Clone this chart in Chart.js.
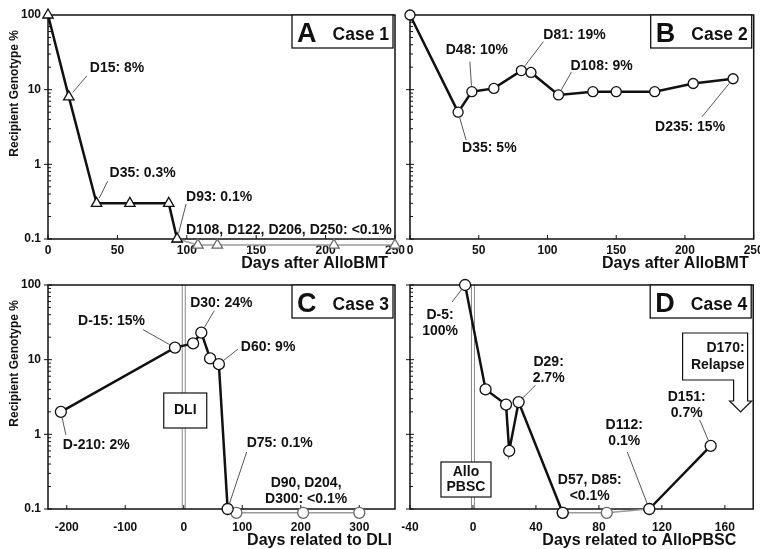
<!DOCTYPE html>
<html>
<head>
<meta charset="utf-8">
<script src="https://cdn.jsdelivr.net/npm/chart.js@4.4.0/dist/chart.umd.min.js"></script>
<style>
  html, body { margin: 0; padding: 0; background: #fff; }
  #wrap { position: relative; width: 760px; height: 549px; overflow: hidden; }
  canvas { position: absolute; }
</style>
</head>
<body>
<div id="wrap">
  <canvas id="cA" width="410" height="270" style="left:0;top:0"></canvas>
  <canvas id="cB" width="364" height="270" style="left:396px;top:0"></canvas>
  <canvas id="cC" width="410" height="279" style="left:0;top:270px"></canvas>
  <canvas id="cD" width="364" height="279" style="left:396px;top:270px"></canvas>
</div>
<script>
// shared y axis (log)
const yTicks = [0.1, 1, 10, 100];
const yTickLabels = ['0.1', '1', '10', '100'];
const yTitle = 'Recipient Genotype %';

// A - Case 1
const daysA = [0, 15, 35, 59, 87, 93];
const pctA = [100, 8, 0.3, 0.3, 0.3, 0.1];
const daysAlow = [93, 108, 122, 206, 250];
const pctAlow = [0.1, 0.083, 0.083, 0.083, 0.083];
const xTicksA = [0, 50, 100, 150, 200, 250];
const notesA = ['D15: 8%', 'D35: 0.3%', 'D93: 0.1%', 'D108, D122, D206, D250: <0.1%'];

// B - Case 2
const daysB = [0, 35, 45, 61, 81, 88, 108, 133, 150, 178, 206, 235];
const pctB = [100, 5, 9.4, 10.4, 18, 17, 8.5, 9.4, 9.4, 9.4, 12.1, 14];
const xTicksB = [0, 50, 100, 150, 200, 250];
const notesB = ['D35: 5%', 'D48: 10%', 'D81: 19%', 'D108: 9%', 'D235: 15%'];

// C - Case 3
const daysC = [-210, -15, 16, 30, 45, 60, 75];
const pctC = [2, 14.5, 16.5, 23, 10.4, 8.7, 0.1];
const daysClow = [75, 90, 204, 300];
const pctClow = [0.1, 0.089, 0.089, 0.089];
const xTicksC = [-200, -100, 0, 100, 200, 300];
const dliDay = 0;
const notesC = ['D-210: 2%', 'D-15: 15%', 'D30: 24%', 'D60: 9%', 'D75: 0.1%', ['D90, D204,', 'D300: <0.1%']];

// D - Case 4
const daysD = [-5, 8, 21, 23, 29, 57];
const pctD = [100, 4, 2.5, 0.6, 2.7, 0.089];
const daysDlow = [57, 85, 112];
const pctDlow = [0.089, 0.089, 0.1];
const daysDrel = [112, 151];
const pctDrel = [0.1, 0.7];
const xTicksD = [-40, 0, 40, 80, 120, 160];
const pbscDay = 0;
const relapseDay = 170;
const notesD = [['D-5:', '100%'], ['D29:', '2.7%'], ['D112:', '0.1%'], ['D151:', '0.7%'], ['D57, D85:', '<0.1%']];

const FONT = '"Liberation Sans", Arial, sans-serif';

function series(days, pcts, extra) {
  return Object.assign({
    data: days.map((d, i) => ({ x: d, y: pcts[i] })),
    clip: false,
    tension: 0,
    borderColor: '#111',
    borderWidth: 2.5,
    pointStyle: 'circle',
    pointRadius: 5,
    pointBackgroundColor: '#fff',
    pointBorderColor: '#111',
    pointBorderWidth: 1.3
  }, extra);
}
const lowStyle = { borderColor: '#9a9a9a', borderWidth: 1.6, pointBorderColor: '#666' };

function decor(cfg) {
  return {
    id: 'decor',
    beforeDatasetsDraw(chart) {
      const { ctx, chartArea: a, scales: { x, y } } = chart;
      ctx.save();
      // marker line (DLI / AlloPBSC)
      if (cfg.marker) {
        const mx = x.getPixelForValue(cfg.marker.day);
        ctx.strokeStyle = '#888';
        ctx.lineWidth = 1;
        [-1.5, 1.5].forEach(o => {
          ctx.beginPath();
          ctx.moveTo(mx + o, a.top);
          ctx.lineTo(mx + o, a.bottom);
          ctx.stroke();
        });
      }
      // frame
      ctx.strokeStyle = '#111';
      ctx.lineWidth = 1.5;
      ctx.strokeRect(a.left, a.top, a.right - a.left, a.bottom - a.top);
      // y ticks, major and minor
      ctx.lineWidth = 1;
      yTicks.forEach((v, k) => {
        const py = y.getPixelForValue(v);
        ctx.beginPath();
        ctx.moveTo(a.left - 4, py);
        ctx.lineTo(a.left + 4, py);
        ctx.stroke();
        if (k < yTicks.length - 1) {
          for (let m = 2; m <= 9; m++) {
            const my = y.getPixelForValue(v * m);
            ctx.beginPath();
            ctx.moveTo(a.left, my);
            ctx.lineTo(a.left + 3, my);
            ctx.stroke();
          }
        }
      });
      // x ticks
      cfg.xTicks.forEach(v => {
        const px = x.getPixelForValue(v);
        ctx.beginPath();
        ctx.moveTo(px, a.bottom);
        ctx.lineTo(px, a.bottom - 4);
        ctx.stroke();
      });
      ctx.restore();
    },
    afterDraw(chart) {
      const { ctx, chartArea: a, scales: { x } } = chart;
      ctx.save();
      ctx.fillStyle = '#111';
      ctx.textBaseline = 'middle';

      // notes with leader lines
      ctx.font = 'bold 14px ' + FONT;
      cfg.layout.forEach((n, k) => {
        const pt = chart.getDatasetMeta(n.set).data[n.i];
        if (n.lx !== undefined) {
          const len = Math.hypot(n.lx, n.ly);
          ctx.strokeStyle = '#444';
          ctx.lineWidth = 0.9;
          ctx.beginPath();
          ctx.moveTo(pt.x + n.lx / len * 6, pt.y + n.ly / len * 6);
          ctx.lineTo(pt.x + n.lx, pt.y + n.ly);
          ctx.stroke();
        }
        ctx.textAlign = n.align;
        [].concat(cfg.notes[k]).forEach((t, j) => {
          ctx.fillText(t, pt.x + n.tx, pt.y + n.ty + j * 16);
        });
      });

      // marker box
      if (cfg.marker) {
        const m = cfg.marker;
        const mx = x.getPixelForValue(m.day);
        const bx = mx + m.dx, by = a.top + m.top;
        ctx.fillStyle = '#fff';
        ctx.fillRect(bx, by, m.w, m.h);
        ctx.strokeStyle = '#111';
        ctx.lineWidth = 1.2;
        ctx.strokeRect(bx, by, m.w, m.h);
        ctx.fillStyle = '#111';
        ctx.textAlign = 'center';
        ctx.font = 'bold 14px ' + FONT;
        const n = m.text.length;
        m.text.forEach((t, j) => ctx.fillText(t, bx + m.w / 2, by + m.h / 2 + (j - (n - 1) / 2) * 15));
      }

      // relapse callout arrow
      if (cfg.relapse) {
        const tip = x.getPixelForValue(cfg.relapse.day);
        const top = a.top + 48, boxB = top + 47, headY = top + 68, tipY = top + 79;
        ctx.beginPath();
        ctx.moveTo(tip - 58, top);
        ctx.lineTo(tip + 7, top);
        ctx.lineTo(tip + 7, headY);
        ctx.lineTo(tip + 11, headY);
        ctx.lineTo(tip, tipY);
        ctx.lineTo(tip - 11, headY);
        ctx.lineTo(tip - 7, headY);
        ctx.lineTo(tip - 7, boxB);
        ctx.lineTo(tip - 58, boxB);
        ctx.closePath();
        ctx.fillStyle = '#fff';
        ctx.fill();
        ctx.strokeStyle = '#111';
        ctx.lineWidth = 1.2;
        ctx.stroke();
        ctx.fillStyle = '#111';
        ctx.textAlign = 'right';
        ctx.font = 'bold 14px ' + FONT;
        cfg.relapse.text.forEach((t, j) => ctx.fillText(t, tip + 4, top + 15 + j * 17));
      }

      // panel letter box
      const bw = 101, bh = 33, br = a.right - 2, bt = a.top;
      ctx.fillStyle = '#fff';
      ctx.fillRect(br - bw, bt, bw, bh);
      ctx.strokeStyle = '#111';
      ctx.lineWidth = 1.3;
      ctx.strokeRect(br - bw, bt, bw, bh);
      ctx.fillStyle = '#111';
      ctx.textBaseline = 'alphabetic';
      ctx.textAlign = 'left';
      ctx.font = 'bold 27px ' + FONT;
      ctx.fillText(cfg.letter, br - bw + 5, bt + 27);
      ctx.textAlign = 'right';
      ctx.font = 'bold 17.5px ' + FONT;
      ctx.fillText(cfg.caseText, br - 4, bt + 25);

      // x title
      ctx.textBaseline = 'middle';
      ctx.textAlign = 'right';
      ctx.font = 'bold 16px ' + FONT;
      ctx.fillText(cfg.xTitle, a.right - cfg.xTitleOff, a.bottom + cfg.xTitleY);

      // y title
      if (cfg.yTitle) {
        ctx.translate(15, a.top + 15);
        ctx.rotate(-Math.PI / 2);
        ctx.font = 'bold 12px ' + FONT;
        ctx.textAlign = 'right';
        ctx.fillText(yTitle, 0, 0);
      }
      ctx.restore();
    }
  };
}

function panel(id, cfg) {
  new Chart(document.getElementById(id), {
    type: 'line',
    data: { datasets: cfg.datasets },
    options: {
      responsive: false,
      animation: false,
      events: [],
      layout: { padding: { left: 0, right: cfg.padRight, top: 15, bottom: 0 } },
      plugins: { legend: { display: false }, tooltip: { enabled: false } },
      scales: {
        x: {
          type: 'linear',
          min: cfg.xMin,
          max: cfg.xMax,
          grid: { display: false, drawTicks: false },
          border: { display: false },
          afterBuildTicks: s => { s.ticks = cfg.xTicks.map(v => ({ value: v })); },
          ticks: {
            autoSkip: false,
            maxRotation: 0,
            padding: cfg.tickPad,
            color: '#111',
            font: { family: FONT, size: 12, weight: 'bold' },
            callback: v => String(v)
          },
          afterFit: s => { s.height = cfg.xAxisH; s.paddingLeft = 0; s.paddingRight = 0; }
        },
        y: {
          type: 'logarithmic',
          min: 0.1,
          max: 100,
          grid: { display: false, drawTicks: false },
          border: { display: false },
          afterBuildTicks: s => { s.ticks = yTicks.map(v => ({ value: v })); },
          ticks: {
            display: cfg.yLabels,
            autoSkip: false,
            padding: 7,
            color: '#111',
            font: { family: FONT, size: 12, weight: 'bold' },
            callback: v => yTickLabels[yTicks.indexOf(v)] || ''
          },
          afterFit: s => { s.width = cfg.yAxisW; s.paddingTop = 0; s.paddingBottom = 0; }
        }
      }
    },
    plugins: [decor(cfg)]
  });
}

panel('cA', {
  xMin: 0, xMax: 250, xTicks: xTicksA, padRight: 15, yAxisW: 48, yLabels: true, yTitle: true,
  xAxisH: 31, tickPad: 4, xTitle: 'Days after AlloBMT', xTitleOff: 7, xTitleY: 25,
  letter: 'A', caseText: 'Case 1',
  datasets: [
    series(daysA, pctA, { pointStyle: 'triangle', pointRadius: 6 }),
    series(daysAlow, pctAlow, Object.assign({ pointStyle: 'triangle', pointRadius: 6 }, lowStyle))
  ],
  notes: notesA,
  layout: [
    { set: 0, i: 1, tx: 21, ty: -29, lx: 18, ly: -21, align: 'left' },
    { set: 0, i: 2, tx: 13, ty: -30, lx: 11, ly: -22, align: 'left' },
    { set: 0, i: 5, tx: 9, ty: -42, lx: 9, ly: -35, align: 'left' },
    { set: 1, i: 1, tx: -12, ty: -15, align: 'left' }
  ]
});

panel('cB', {
  xMin: 0, xMax: 250, xTicks: xTicksB, padRight: 3, yAxisW: 14, yLabels: false, yTitle: false,
  xAxisH: 31, tickPad: 4, xTitle: 'Days after AlloBMT', xTitleOff: 5, xTitleY: 25,
  letter: 'B', caseText: 'Case 2',
  datasets: [series(daysB, pctB, {})],
  notes: notesB,
  layout: [
    { set: 0, i: 1, tx: 4, ty: 36, lx: 8, ly: 28, align: 'left' },
    { set: 0, i: 2, tx: 5, ty: -42, lx: -2, ly: -30, align: 'center' },
    { set: 0, i: 4, tx: 22, ty: -35, lx: 22, ly: -29, align: 'left' },
    { set: 0, i: 6, tx: 12, ty: -29, lx: 13, ly: -23, align: 'left' },
    { set: 0, i: 11, tx: -8, ty: 48, lx: -31, ly: 38, align: 'right' }
  ]
});

panel('cC', {
  xMin: -232, xMax: 361, xTicks: xTicksC, padRight: 15, yAxisW: 48, yLabels: true, yTitle: true,
  xAxisH: 40, tickPad: 11, xTitle: 'Days related to DLI', xTitleOff: 3, xTitleY: 32,
  letter: 'C', caseText: 'Case 3',
  marker: { day: dliDay, text: ['DLI'], dx: -20, w: 43, top: 108, h: 35 },
  datasets: [
    series(daysC, pctC, { pointRadius: 5.5 }),
    series(daysClow, pctClow, Object.assign({ pointRadius: 5.5 }, lowStyle))
  ],
  notes: notesC,
  layout: [
    { set: 0, i: 0, tx: 2, ty: 33, lx: 5, ly: 23, align: 'left' },
    { set: 0, i: 1, tx: -30, ty: -26, lx: -32, ly: -18, align: 'right' },
    { set: 0, i: 3, tx: 20, ty: -30, lx: 13, ly: -22, align: 'center' },
    { set: 0, i: 5, tx: 22, ty: -17, lx: 19, ly: -15, align: 'left' },
    { set: 0, i: 6, tx: 19, ty: -66, lx: 19, ly: -57, align: 'left' },
    { set: 1, i: 2, tx: 3, ty: -30, align: 'center' }
  ]
});

panel('cD', {
  xMin: -40, xMax: 178, xTicks: xTicksD, padRight: 3, yAxisW: 14, yLabels: false, yTitle: false,
  xAxisH: 40, tickPad: 11, xTitle: 'Days related to AlloPBSC', xTitleOff: 17, xTitleY: 32,
  letter: 'D', caseText: 'Case 4',
  marker: { day: pbscDay, text: ['Allo', 'PBSC'], dx: -32, w: 50, top: 177, h: 35 },
  relapse: { day: relapseDay, text: ['D170:', 'Relapse'] },
  datasets: [
    series(daysD, pctD, { pointRadius: 5.5 }),
    series(daysDrel, pctDrel, { pointRadius: 5.5 }),
    series(daysDlow, pctDlow, Object.assign({ pointRadius: 5.5 }, lowStyle))
  ],
  notes: notesD,
  layout: [
    { set: 0, i: 0, tx: -25, ty: 30, lx: -13, ly: 17, align: 'center' },
    { set: 0, i: 4, tx: 30, ty: -40, lx: 17, ly: -17, align: 'center' },
    { set: 2, i: 2, tx: -25, ty: -84, lx: -22, ly: -57, align: 'center' },
    { set: 1, i: 1, tx: -24, ty: -49, lx: -11, ly: -26, align: 'center' },
    { set: 2, i: 0, tx: 27, ty: -33, align: 'center' }
  ]
});
</script>
</body>
</html>
